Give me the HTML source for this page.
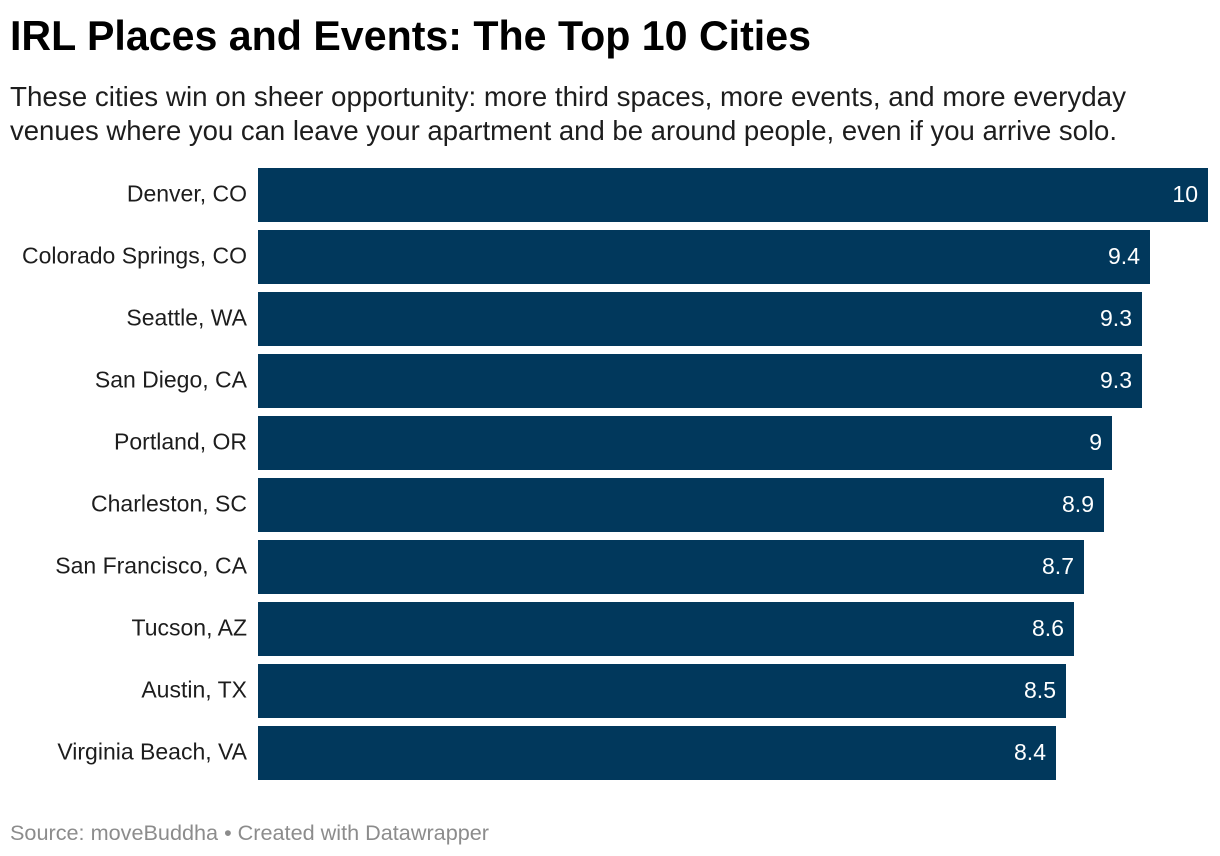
<!DOCTYPE html>
<html lang="en">
<head>
<meta charset="utf-8">
<title>IRL Places and Events: The Top 10 Cities</title>
<style>
html,body{margin:0;padding:0;background:#fff;width:1220px;height:856px;overflow:hidden}
svg{display:block;font-family:"Liberation Sans",sans-serif}
</style>
</head>
<body>
<svg id="chart" width="1220" height="856" viewBox="0 0 1220 856" xmlns="http://www.w3.org/2000/svg">
  <rect width="1220" height="856" fill="#ffffff"/>
  <text x="10" y="50" font-size="42" font-weight="700" fill="#000000" textLength="801" lengthAdjust="spacingAndGlyphs">IRL Places and Events: The Top 10 Cities</text>
  <text x="10" y="106" font-size="27.5" fill="#1d1d1d" textLength="1116" lengthAdjust="spacingAndGlyphs">These cities win on sheer opportunity: more third spaces, more events, and more everyday</text>
  <text x="10" y="140" font-size="27.5" fill="#1d1d1d" textLength="1107" lengthAdjust="spacingAndGlyphs">venues where you can leave your apartment and be around people, even if you arrive solo.</text>
  <g id="bars"></g>
  <text x="10" y="840" font-size="21" fill="#8c8c8c" textLength="479" lengthAdjust="spacingAndGlyphs">Source: moveBuddha • Created with Datawrapper</text>
</svg>
<script>
const categories = ["Denver, CO","Colorado Springs, CO","Seattle, WA","San Diego, CA","Portland, OR","Charleston, SC","San Francisco, CA","Tucson, AZ","Austin, TX","Virginia Beach, VA"];
const values = [10,9.39,9.305,9.305,8.99,8.905,8.695,8.59,8.505,8.4];
const valueLabels = ["10","9.4","9.3","9.3","9","8.9","8.7","8.6","8.5","8.4"];

const NS = "http://www.w3.org/2000/svg";
const group = document.getElementById("bars");
const plotLeft = 258, plotWidth = 950, domainMax = 10;
const plotTop = 168, rowStep = 62, barHeight = 54;
const xScale = function (v) { return Math.round(plotWidth * v / domainMax); };
const yScale = function (i) { return plotTop + i * rowStep; };

categories.forEach(function (cat, i) {
  const y = yScale(i);
  const w = xScale(values[i]);

  const label = document.createElementNS(NS, "text");
  
  
  label.setAttribute("x", plotLeft - 11);
  label.setAttribute("y", y + 33.5);
  label.setAttribute("text-anchor", "end");
  label.setAttribute("font-size", "23");
  label.setAttribute("fill", "#1d1d1d");
  label.textContent = cat;
  group.appendChild(label);

  const bar = document.createElementNS(NS, "rect");
  
  
  bar.setAttribute("x", plotLeft);
  bar.setAttribute("y", y);
  bar.setAttribute("width", w);
  bar.setAttribute("height", barHeight);
  bar.setAttribute("fill", "#01385c");
  bar.setAttribute("shape-rendering", "crispEdges");
  group.appendChild(bar);

  const val = document.createElementNS(NS, "text");
  
  
  val.setAttribute("x", plotLeft + w - 10);
  val.setAttribute("y", y + 34);
  val.setAttribute("text-anchor", "end");
  val.setAttribute("font-size", "23");
  val.setAttribute("fill", "#ffffff");
  val.textContent = valueLabels[i];
  group.appendChild(val);
});
</script>
</body>
</html>
